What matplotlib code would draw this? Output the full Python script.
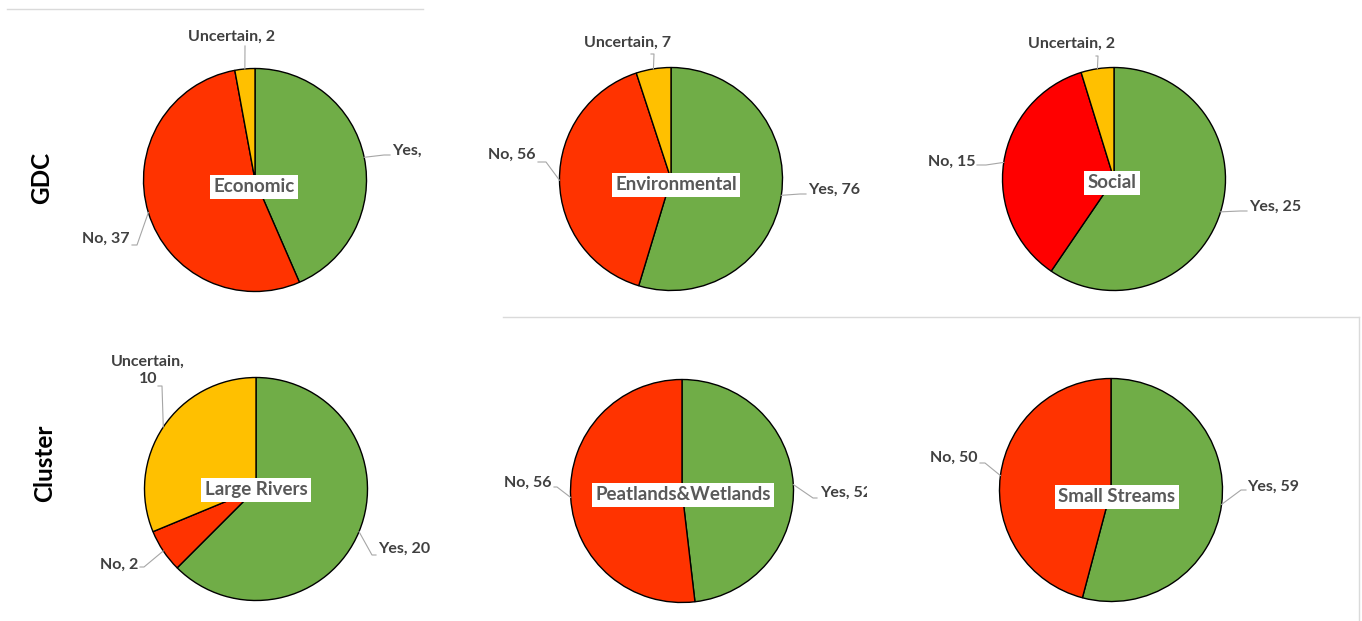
import matplotlib
matplotlib.use('Agg')
import matplotlib.pyplot as plt
import numpy as np
from matplotlib.transforms import Bbox, TransformedBbox

# ── Data ─────────────────────────────────────────────────────────────────────
categories     = ["Yes", "No", "Uncertain"]
economic       = [30, 37, 2]
environmental  = [76, 56, 7]
social         = [25, 15, 2]
large_rivers   = [20, 2, 10]
peatlands      = [52, 56]
small_streams  = [59, 50]

pie_titles = ["Economic", "Environmental", "Social",
              "Large Rivers", "Peatlands&Wetlands", "Small Streams"]
row_titles = ["GDC", "Cluster"]

# ── Colours ──────────────────────────────────────────────────────────────────
C_YES   = "#70AD47"
C_NO    = "#FF3300"
C_NO_S  = "#FF0000"
C_UNC   = "#FFC000"
C_LABEL = "#404040"
C_TITLE = "#595959"
C_LEAD  = "#A6A6A6"
C_RULE  = "#DADADA"

W, H = 1362, 621
fig = plt.figure(figsize=(W / 100, H / 100), dpi=100)
ax = fig.add_axes([0, 0, 1, 1])
FONT = "Lato"


def Y(y):
    # pixel rows (top-down) -> data y (bottom-up)
    return H - y


# layout per pie: centre (px), title box centre, label placements
# each label: (text x, text y, ha, leader points after the wedge anchor, clip x)
layout = [
    dict(c=(255, 180), t=(254, 187), cols=[C_YES, C_NO, C_UNC],
         labels=[(392, 151, 'left', [(384, 155), (390, 155)], 421),
                 (130, 239, 'right', [(137, 245), (132, 245)], None),
                 (232, 37, 'center', [(245, 46)], None)]),
    dict(c=(671, 179), t=(676, 185), cols=[C_YES, C_NO, C_UNC],
         labels=[(808, 190, 'left', [(800, 194), (806, 194)], None),
                 (535, 155, 'right', [(546, 162), (538, 162)], None),
                 (627, 43, 'center', [(654, 54), (651, 54)], None)]),
    dict(c=(1114, 179), t=(1112, 183), cols=[C_YES, C_NO_S, C_UNC],
         labels=[(1249, 207, 'left', [(1240, 211), (1247, 211)], None),
                 (975, 162, 'right', [(986, 165), (977, 165)], None),
                 (1072, 44, 'center', [(1098, 56), (1096, 56)], None)]),
    dict(c=(256, 489), t=(256, 490), cols=[C_YES, C_NO, C_UNC],
         labels=[(378, 549, 'left', [(372, 555), (376, 555)], None),
                 (138, 565, 'right', [(144, 567), (140, 567)], None),
                 (148, 370, 'center', [(162, 386), (158, 386)], None)]),
    dict(c=(682, 491), t=(683, 495), cols=[C_YES, C_NO],
         labels=[(820, 493, 'left', [(813, 498), (817, 498)], 867),
                 (552, 483, 'right', [(557, 487), (554, 487)], None)]),
    dict(c=(1111, 490), t=(1117, 497), cols=[C_YES, C_NO],
         labels=[(1247, 487, 'left', [(1241, 490), (1246, 490)], None),
                 (978, 458, 'right', [(985, 463), (980, 463)], None)]),
]

series = [economic, environmental, social, large_rivers, peatlands, small_streams]
R = 111.5

for vals, lay, title in zip(series, layout, pie_titles):
    cx, cy = lay['c']
    wedges, _ = ax.pie(vals, colors=lay['cols'], startangle=90, counterclock=False,
                       center=(cx, Y(cy)), radius=R, frame=True,
                       wedgeprops=dict(edgecolor='black', linewidth=1.0))
    for w, v, cat, (tx, ty, ha, pts, clip_x) in zip(wedges, vals, categories, lay['labels']):
        mid = np.deg2rad((w.theta1 + w.theta2) / 2)
        ax_, ay_ = cx + R * np.cos(mid), Y(cy) + R * np.sin(mid)
        xs = [ax_] + [p[0] for p in pts]
        ys = [ay_] + [Y(p[1]) for p in pts]
        ax.plot(xs, ys, color=C_LEAD, lw=0.8, zorder=3)
        txt = f"{cat}, {v}"
        if title == "Large Rivers" and cat == "Uncertain":
            txt = f"{cat},\n{v}"
        t = ax.text(tx, Y(ty), txt, ha=ha, va='center', fontsize=11.5,
                    fontweight='bold', color=C_LABEL, family=FONT,
                    linespacing=1.3, zorder=5)
        if clip_x is not None:
            t.set_clip_box(TransformedBbox(Bbox.from_extents(0, 0, clip_x, H),
                                           ax.transData))
            t.set_clip_on(True)
    tx, ty = lay['t']
    ax.text(tx, Y(ty), title, ha='center', va='center', fontsize=13.5,
            fontweight='bold', color=C_TITLE, family=FONT, zorder=6,
            bbox=dict(boxstyle='square,pad=0.18', facecolor='white',
                      edgecolor='none'))

# row titles
ax.text(42, Y(178), row_titles[0], rotation=90, ha='center', va='center',
        fontsize=17.5, fontweight='bold', color='black', family=FONT)
ax.text(45, Y(463), row_titles[1], rotation=90, ha='center', va='center',
        fontsize=17.5, fontweight='bold', color='black', family=FONT)

# faint panel edges from the original screenshot
ax.plot([7, 423], [Y(9), Y(9)], color=C_RULE, lw=1.0, zorder=1)
ax.plot([503, 1359], [Y(317), Y(317)], color=C_RULE, lw=1.0, zorder=1)
ax.plot([1359, 1359], [Y(317), 0], color=C_RULE, lw=1.0, zorder=1)

ax.set_xlim(0, W)
ax.set_ylim(0, H)
ax.set_aspect('equal')
ax.set_axis_off()

fig.savefig('out.png', dpi=100, facecolor='white')
plt.close(fig)
